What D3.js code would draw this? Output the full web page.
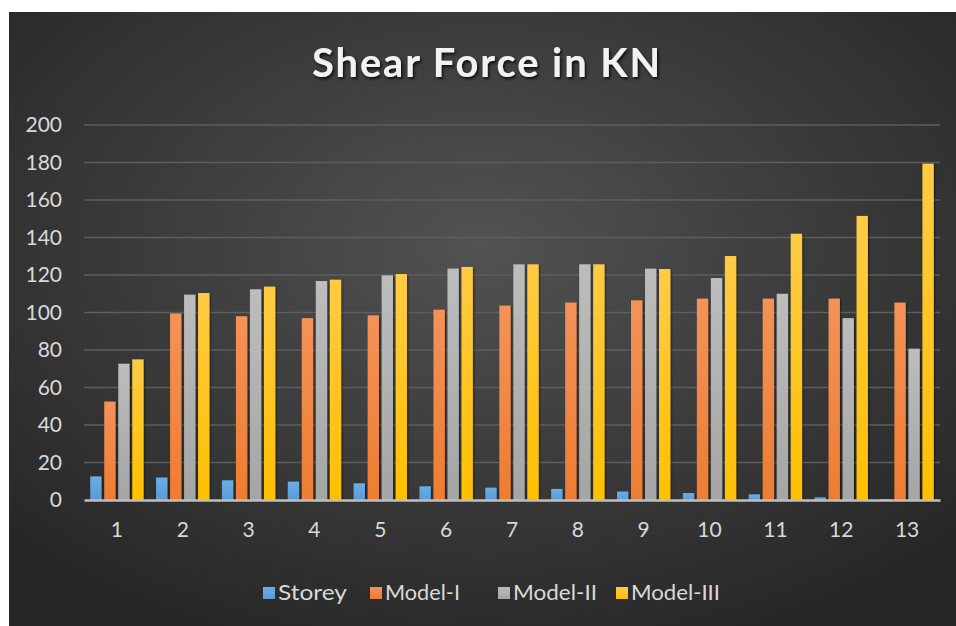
<!DOCTYPE html>
<html>
<head>
<meta charset="utf-8">
<script src="https://cdnjs.cloudflare.com/ajax/libs/d3/7.8.5/d3.min.js"></script>
<style>
  html, body { margin: 0; padding: 0; background: #ffffff; }
  svg { display: block; }
</style>
</head>
<body>
<div id="chart"></div>
<script>
var storeys = ["1", "2", "3", "4", "5", "6", "7", "8", "9", "10", "11", "12", "13"];
var seriesNames = ["Storey", "Model-I", "Model-II", "Model-III"];
var storeyValues = [12.6, 12, 10.5, 9.8, 8.9, 7.3, 6.6, 5.9, 4.5, 3.7, 3, 1.4, 0.5];
var model1Values = [52.5, 99.5, 98, 97, 98.5, 101.5, 103.7, 105.3, 106.5, 107.4, 107.4, 107.4, 105.3];
var model2Values = [72.7, 109.5, 112.4, 116.8, 119.8, 123.4, 125.7, 125.7, 123.4, 118.4, 110, 97, 80.7];
var model3Values = [75, 110.4, 113.8, 117.5, 120.5, 124.3, 125.7, 125.7, 123.2, 130.1, 142, 151.5, 179.4];
var yTicks = [0, 20, 40, 60, 80, 100, 120, 140, 160, 180, 200];

(function () {
    'use strict';

    var WIDTH = 956;
    var HEIGHT = 626;
    var margin = {left: 84, right: 16, top: 125, bottom: 126};
    var FONT = "Lato, 'Open Sans', sans-serif";

    var colors = {
        "Storey":    ["#6aaee6", "#5b9bd5"],
        "Model-I":   ["#f49259", "#ed7d31"],
        "Model-II":  ["#bdbdbd", "#a5a5a5"],
        "Model-III": ["#ffcb45", "#ffc000"]
    };

    var allValues = [storeyValues, model1Values, model2Values, model3Values];
    var data = storeys.map(function (s, i) {
        return {
            storey: s,
            values: seriesNames.map(function (name, j) {
                return {name: name, value: allValues[j][i]};
            })
        };
    });

    var svg = d3.select("#chart")
        .append("svg")
        .attr("width", WIDTH)
        .attr("height", HEIGHT);

    var defs = svg.append("defs");

    var bg = defs.append("radialGradient")
        .attr("id", "bgGrad")
        .attr("cx", "50%").attr("cy", "38%").attr("r", "70%");
    bg.append("stop").attr("offset", "0%").attr("stop-color", "#525252");
    bg.append("stop").attr("offset", "100%").attr("stop-color", "#262626");

    seriesNames.forEach(function (name, i) {
        var g = defs.append("linearGradient")
            .attr("id", "barGrad" + i)
            .attr("x1", 0).attr("y1", 0).attr("x2", 0).attr("y2", 1);
        g.append("stop").attr("offset", "0%").attr("stop-color", colors[name][0]);
        g.append("stop").attr("offset", "100%").attr("stop-color", colors[name][1]);
    });

    var shadow = defs.append("filter").attr("id", "shadow")
        .attr("x", "-20%").attr("y", "-20%").attr("width", "140%").attr("height", "140%");
    shadow.append("feDropShadow")
        .attr("dx", 1).attr("dy", 1).attr("stdDeviation", 1)
        .attr("flood-color", "#000000").attr("flood-opacity", 0.55);

    var textShadow = defs.append("filter").attr("id", "textShadow")
        .attr("x", "-10%").attr("y", "-30%").attr("width", "120%").attr("height", "160%");
    textShadow.append("feDropShadow")
        .attr("dx", 1.5).attr("dy", 2).attr("stdDeviation", 1.5)
        .attr("flood-color", "#000000").attr("flood-opacity", 0.8);

    // chart area background
    svg.append("rect")
        .attr("x", 9).attr("y", 12)
        .attr("width", WIDTH - 9).attr("height", HEIGHT - 12)
        .attr("fill", "url(#bgGrad)");

    var x0 = d3.scaleBand()
        .domain(storeys)
        .range([margin.left, WIDTH - margin.right])
        .padding(0);

    var x1 = d3.scaleBand()
        .domain(seriesNames)
        .range([0, x0.bandwidth()])
        .paddingInner(0.19)
        .paddingOuter(0.445);

    var y = d3.scaleLinear()
        .domain([0, 200])
        .range([HEIGHT - margin.bottom, margin.top]);

    // gridlines
    svg.append("g")
        .attr("class", "grid")
        .selectAll("line")
        .data(yTicks.slice(1))
        .enter()
        .append("line")
        .attr("x1", margin.left)
        .attr("x2", WIDTH - margin.right)
        .attr("y1", function (d) { return y(d); })
        .attr("y2", function (d) { return y(d); })
        .attr("stroke", "#5e5e5e")
        .attr("stroke-width", 1.5);

    // y axis labels
    var yAxis = d3.axisLeft(y).tickValues(yTicks).tickSize(0).tickPadding(22);
    var yg = svg.append("g")
        .attr("transform", "translate(" + margin.left + ",0)")
        .call(yAxis);
    yg.select(".domain").remove();
    yg.selectAll("text")
        .attr("fill", "#d9d9d9")
        .attr("font-family", FONT)
        .attr("font-size", 21);

    // bars
    var groups = svg.append("g")
        .selectAll("g")
        .data(data)
        .enter()
        .append("g")
        .attr("transform", function (d) { return "translate(" + x0(d.storey) + ",0)"; });

    groups.selectAll("rect")
        .data(function (d) { return d.values; })
        .enter()
        .append("rect")
        .attr("x", function (d) { return x1(d.name); })
        .attr("y", function (d) { return y(d.value); })
        .attr("width", x1.bandwidth())
        .attr("height", function (d) { return y(0) - y(d.value); })
        .attr("fill", function (d) { return "url(#barGrad" + seriesNames.indexOf(d.name) + ")"; })
        .attr("filter", "url(#shadow)");

    // x axis
    var xAxis = d3.axisBottom(x0).tickSize(0).tickPadding(22);
    var xg = svg.append("g")
        .attr("transform", "translate(0," + y(0) + ")")
        .call(xAxis);
    xg.select(".domain")
        .attr("stroke", "#bfbfbf")
        .attr("stroke-width", 2.5);
    xg.selectAll("text")
        .attr("fill", "#d9d9d9")
        .attr("font-family", FONT)
        .attr("font-size", 21);

    // title
    svg.append("text")
        .attr("x", 487)
        .attr("y", 77)
        .attr("text-anchor", "middle")
        .attr("font-family", FONT)
        .attr("font-weight", "bold")
        .attr("font-size", 41)
        .attr("letter-spacing", 2)
        .attr("textLength", 350)
        .attr("lengthAdjust", "spacingAndGlyphs")
        .attr("fill", "#f2f2f2")
        .attr("filter", "url(#textShadow)")
        .text("Shear Force in KN");

    // legend
    var legendX = [263, 370, 498, 616];
    var legendW = [69, 75, 84, 89];
    var legend = svg.append("g")
        .selectAll("g")
        .data(seriesNames)
        .enter()
        .append("g")
        .attr("transform", function (d, i) { return "translate(" + legendX[i] + ",587)"; });

    legend.append("rect")
        .attr("width", 12)
        .attr("height", 12)
        .attr("fill", function (d, i) { return "url(#barGrad" + i + ")"; });

    legend.append("text")
        .attr("x", 15)
        .attr("y", 13)
        .attr("fill", "#d9d9d9")
        .attr("font-family", FONT)
        .attr("font-size", 22)
        .attr("textLength", function (d, i) { return legendW[i]; })
        .attr("lengthAdjust", "spacingAndGlyphs")
        .text(function (d) { return d; });
})();
</script>
</body>
</html>
